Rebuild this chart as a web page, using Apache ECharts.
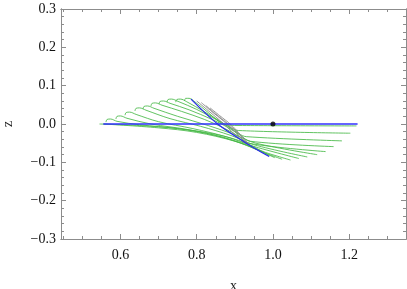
<!DOCTYPE html>
<html>
<head>
<meta charset="utf-8">
<script src="https://cdn.jsdelivr.net/npm/echarts@6/dist/echarts.min.js"></script>
<style>html,body{margin:0;padding:0;background:#fff}#c{width:407px;height:289px}</style>
</head>
<body>
<div id="c"></div>
<script>
// ---- data ----
const xMajorTicks = [0.6, 0.8, 1.0, 1.2];
const xMinorTicks = [0.45, 0.5, 0.55, 0.65, 0.7, 0.75, 0.85, 0.9, 0.95, 1.05, 1.1, 1.15, 1.25, 1.3];
const yMajorTicks = [-0.3, -0.2, -0.1, 0.0, 0.1, 0.2, 0.3];
const yMinorTicks = [-0.28,-0.26,-0.24,-0.22,-0.18,-0.16,-0.14,-0.12,-0.08,-0.06,-0.04,-0.02,
                     0.02,0.04,0.06,0.08,0.12,0.14,0.16,0.18,0.22,0.24,0.26,0.28];

// green trajectories (hooks at upper left, ends at lower right)
const greenHook1  = [[0.562,0.005],[0.565,0.012],[0.574,0.013],[0.591,0.007],[0.65,-0.002],[0.75,-0.012],[0.85,-0.030],[0.93,-0.055],[0.97,-0.072],[1.024,-0.092]];
const greenHook2  = [[0.588,0.013],[0.591,0.020],[0.600,0.021],[0.617,0.015],[0.68,0.000],[0.78,-0.015],[0.87,-0.035],[0.94,-0.058],[0.98,-0.074],[1.046,-0.094]];
const greenHook3  = [[0.612,0.023],[0.615,0.030],[0.624,0.031],[0.641,0.025],[0.70,0.006],[0.79,-0.012],[0.88,-0.034],[0.945,-0.057],[1.068,-0.090]];
const greenHook4  = [[0.638,0.034],[0.641,0.041],[0.650,0.042],[0.667,0.036],[0.73,0.014],[0.81,-0.006],[0.89,-0.030],[0.95,-0.054],[1.090,-0.086]];
const greenHook5  = [[0.659,0.039],[0.662,0.046],[0.671,0.047],[0.688,0.041],[0.75,0.020],[0.83,-0.004],[0.90,-0.028],[0.955,-0.050],[1.116,-0.080]];
const greenHook6  = [[0.680,0.047],[0.683,0.054],[0.692,0.055],[0.709,0.049],[0.76,0.033],[0.82,0.012],[0.87,-0.010],[0.91,-0.032],[0.935,-0.050],[1.138,-0.072]];
const greenHook7  = [[0.701,0.052],[0.704,0.059],[0.713,0.060],[0.730,0.054],[0.78,0.037],[0.84,0.012],[0.88,-0.008],[0.915,-0.030],[0.94,-0.045],[1.159,-0.059]];
const greenHook8  = [[0.722,0.057],[0.725,0.064],[0.734,0.065],[0.751,0.059],[0.80,0.038],[0.85,0.012],[0.88,-0.005],[0.91,-0.025],[0.93,-0.033],[1.181,-0.044]];
const greenHook9  = [[0.745,0.057],[0.748,0.064],[0.757,0.065],[0.774,0.058],[0.82,0.032],[0.86,0.008],[0.89,-0.010],[0.91,-0.017],[1.203,-0.024]];
const greenHook10 = [[0.768,0.060],[0.771,0.067],[0.780,0.067],[0.795,0.058],[0.83,0.030],[0.86,0.005],[0.88,-0.003],[0.92,-0.004],[1.219,-0.005]];
const greenLow1   = [[0.545,0.000],[0.65,-0.004],[0.75,-0.012],[0.85,-0.027],[0.93,-0.050],[0.99,-0.083]];
const greenLow2   = [[0.555,0.000],[0.70,-0.010],[0.80,-0.022],[0.90,-0.045],[0.96,-0.068],[1.005,-0.088]];

// gray trajectories
const gray1 = [[0.800,0.060],[0.83,0.035],[0.86,0.010],[0.89,-0.018],[0.925,-0.050]];
const gray2 = [[0.812,0.056],[0.84,0.032],[0.87,0.008],[0.90,-0.020],[0.93,-0.052]];
const gray3 = [[0.824,0.048],[0.85,0.026],[0.88,0.002],[0.91,-0.025],[0.935,-0.055]];
const gray4 = [[0.835,0.042],[0.86,0.022],[0.89,-0.002],[0.915,-0.028],[0.94,-0.056]];

// blue lines
const blueFlat = [[0.555,0.0],[1.222,0.0]];
const blueDiag = [[0.785,0.065],[0.855,0.0],[0.93,-0.050],[0.99,-0.085]];
// fixed point
const fixedPoint = [[1.0, 0.0]];

const greens = [greenHook1,greenHook2,greenHook3,greenHook4,greenHook5,greenHook6,greenHook7,greenHook8,greenHook9,greenHook10,greenLow1,greenLow2];
const grays = [gray1,gray2,gray3,gray4];

const FONT = 'Liberation Serif';
const fmt = v => { const s = v.toFixed(1); return s.startsWith('-') ? '\u2212' + s.slice(1) : s; };
const frameColor = '#8c8c8c';
const X0 = 0.444, X1 = 1.349, Y0 = -0.3, Y1 = 0.3;

function xAx(pos, ticks, len, labels, extra) {
  return Object.assign({
    type: 'value', position: pos, min: X0, max: X1, offset: 0,
    axisLine: { show: true, onZero: false, lineStyle: { color: frameColor, width: 1 } },
    axisTick: { show: true, inside: true, length: len, customValues: ticks, lineStyle: { color: frameColor } },
    axisLabel: labels ? { show: true, customValues: ticks, formatter: fmt, fontFamily: FONT, fontSize: 14, color: '#111', margin: 9 } : { show: false },
    splitLine: { show: false }
  }, extra || {});
}
function yAx(pos, ticks, len, labels, extra) {
  return Object.assign({
    type: 'value', position: pos, min: Y0, max: Y1, offset: 0,
    axisLine: { show: true, onZero: false, lineStyle: { color: frameColor, width: 1 } },
    axisTick: { show: true, inside: true, length: len, customValues: ticks, lineStyle: { color: frameColor } },
    axisLabel: labels ? { show: true, customValues: ticks, formatter: fmt, fontFamily: FONT, fontSize: 14, color: '#111', margin: 5 } : { show: false },
    splitLine: { show: false }
  }, extra || {});
}

const series = [];
greens.forEach(d => series.push({ type: 'line', data: d, showSymbol: false, smooth: 0.35, silent: true,
  lineStyle: { color: '#46b946', width: 1, opacity: 0.85 }, z: 2 }));
grays.forEach(d => series.push({ type: 'line', data: d, showSymbol: false, smooth: 0.3, silent: true,
  lineStyle: { color: '#8a8a8a', width: 1, opacity: 0.9 }, z: 3 }));
series.push({ type: 'line', data: blueFlat, showSymbol: false, silent: true, lineStyle: { color: '#3030ff', width: 1.5 }, z: 4 });
series.push({ type: 'line', data: blueDiag, showSymbol: false, smooth: 0.3, silent: true, lineStyle: { color: '#2a2aee', width: 1.2 }, z: 4 });
series.push({ type: 'scatter', data: fixedPoint, symbolSize: 5, itemStyle: { color: '#000' }, silent: true, z: 5 });

const chart = echarts.init(document.getElementById('c'), null, { renderer: 'canvas' });
chart.setOption({
  animation: false,
  backgroundColor: '#fff',
  grid: { left: 61, right: 1, top: 9, bottom: 50, containLabel: false, outerBoundsMode: 'none' },
  xAxis: [
    xAx('bottom', xMajorTicks, 5, true, { name: 'x', nameLocation: 'middle', nameGap: 40,
      nameTextStyle: { fontFamily: FONT, fontSize: 14, color: '#222' } }),
    xAx('bottom', xMinorTicks, 3, false),
    xAx('top', xMajorTicks, 5, false),
    xAx('top', xMinorTicks, 3, false)
  ],
  yAxis: [
    yAx('left', yMajorTicks, 5, true, { name: 'z', nameLocation: 'middle', nameGap: 46, nameRotate: 90,
      nameTextStyle: { fontFamily: FONT, fontSize: 14, color: '#222' } }),
    yAx('left', yMinorTicks, 3, false),
    yAx('right', yMajorTicks, 5, false),
    yAx('right', yMinorTicks, 3, false)
  ],
  series: series
});
</script>
</body>
</html>
